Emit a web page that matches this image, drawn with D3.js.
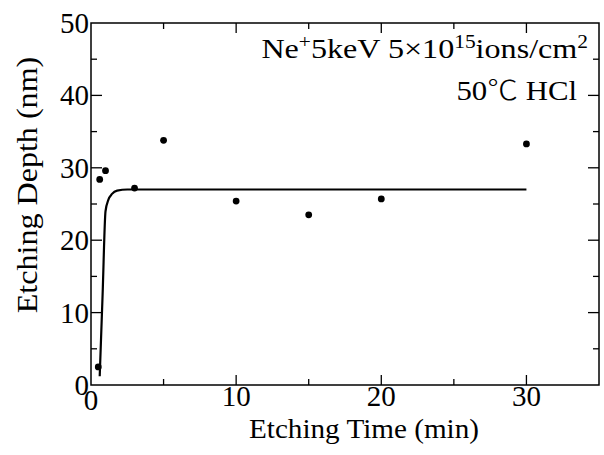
<!DOCTYPE html>
<html>
<head>
<meta charset="utf-8">
<script src="https://cdn.jsdelivr.net/npm/d3@7.9.0/dist/d3.min.js"></script>
<style>
  body { margin: 0; background: #fff; }
  svg text { font-family: "Liberation Serif", "DejaVu Serif", serif; fill: #000; }
</style>
</head>
<body>
<svg id="chart" width="604" height="455"></svg>
<script>
// measured points
const times = [0.5, 0.6, 1, 3, 5, 10, 15, 20, 30];
const depths = [2.5, 28.4, 29.6, 27.2, 33.8, 25.4, 23.5, 25.7, 33.3];

// fitted curve
const fitTimes = [0.6, 0.8, 1.0, 1.2, 1.45, 1.8, 2.5, 5, 30];
const fitDepths = [1.2, 12.5, 24.0, 25.6, 26.4, 26.85, 27, 27, 27];

const xMajor = [0, 10, 20, 30];
const xMinor = [5, 15, 25];
const yMajor = [0, 10, 20, 30, 40, 50];
const yMinor = [5, 15, 25, 35, 45];

const svg = d3.select("#chart");
const mLeft = 91, mRight = 599, mTop = 23, mBottom = 385;

const x = d3.scaleLinear().domain([0, 35]).range([mLeft, mRight]);
const y = d3.scaleLinear().domain([0, 50]).range([mBottom, mTop]);

// frame
svg.append("rect")
  .attr("x", mLeft).attr("y", mTop)
  .attr("width", mRight - mLeft).attr("height", mBottom - mTop)
  .attr("fill", "none").attr("stroke", "#000").attr("stroke-width", 1.5);

// ticks, all pointing in
const g = svg.append("g").attr("stroke", "#000").attr("stroke-width", 1.3);
function xTicks(vals, len) {
  vals.forEach(v => {
    g.append("line").attr("x1", x(v)).attr("x2", x(v)).attr("y1", mBottom).attr("y2", mBottom - len);
    g.append("line").attr("x1", x(v)).attr("x2", x(v)).attr("y1", mTop).attr("y2", mTop + len);
  });
}
function yTicks(vals, len) {
  vals.forEach(v => {
    g.append("line").attr("x1", mLeft).attr("x2", mLeft + len).attr("y1", y(v)).attr("y2", y(v));
    g.append("line").attr("x1", mRight).attr("x2", mRight - len).attr("y1", y(v)).attr("y2", y(v));
  });
}
xTicks(xMajor.slice(1), 10);
xTicks(xMinor, 6);
yTicks(yMajor.slice(1, -1), 11);
yTicks(yMinor, 6);

// tick labels
svg.selectAll(".xl").data(xMajor).join("text")
  .attr("x", d => x(d)).attr("y", d => d === 0 ? 410 : 406)
  .attr("text-anchor", "middle").attr("font-size", 29)
  .text(d => d);
svg.selectAll(".yl").data(yMajor).join("text")
  .attr("x", mLeft - 2).attr("y", d => y(d) + 10)
  .attr("text-anchor", "end").attr("font-size", 29)
  .text(d => d);

// axis titles
svg.append("text")
  .attr("transform", "translate(364,438) scale(1.08,1)")
  .attr("text-anchor", "middle").attr("font-size", 27)
  .text("Etching Time (min)");
svg.append("text")
  .attr("transform", "translate(37,185) rotate(-90) scale(1.07,1)")
  .attr("text-anchor", "middle").attr("font-size", 30)
  .text("Etching Depth (nm)");

// annotation
const t1 = svg.append("text")
  .attr("transform", "translate(588,58) scale(1.19,1)")
  .attr("text-anchor", "end").attr("font-size", 27);
t1.append("tspan").text("Ne");
t1.append("tspan").attr("dy", -10).attr("font-size", 18).text("+");
t1.append("tspan").attr("dy", 10).text("5keV 5\u00d710");
t1.append("tspan").attr("dy", -10).attr("font-size", 18).text("15");
t1.append("tspan").attr("dy", 10).text("ions/cm");
t1.append("tspan").attr("dy", -10).attr("font-size", 18).text("2");
const t2 = svg.append("text")
  .attr("transform", "translate(577,100) scale(1.14,1)")
  .attr("text-anchor", "end").attr("font-size", 27);
t2.append("tspan").text("50");
t2.append("tspan").attr("font-family", "Noto Sans CJK JP").attr("font-weight", 300).text("\u2103");
t2.append("tspan").text(" HCl");

// fit line
const line = d3.line().x(d => x(d[0])).y(d => y(d[1])).curve(d3.curveMonotoneX);
svg.append("path")
  .attr("d", line(d3.zip(fitTimes, fitDepths)))
  .attr("fill", "none").attr("stroke", "#000").attr("stroke-width", 2.2);

// points
svg.selectAll(".pt").data(d3.zip(times, depths)).join("circle")
  .attr("cx", d => x(d[0])).attr("cy", d => y(d[1]))
  .attr("r", 3.4).attr("fill", "#000");
</script>
</body>
</html>
